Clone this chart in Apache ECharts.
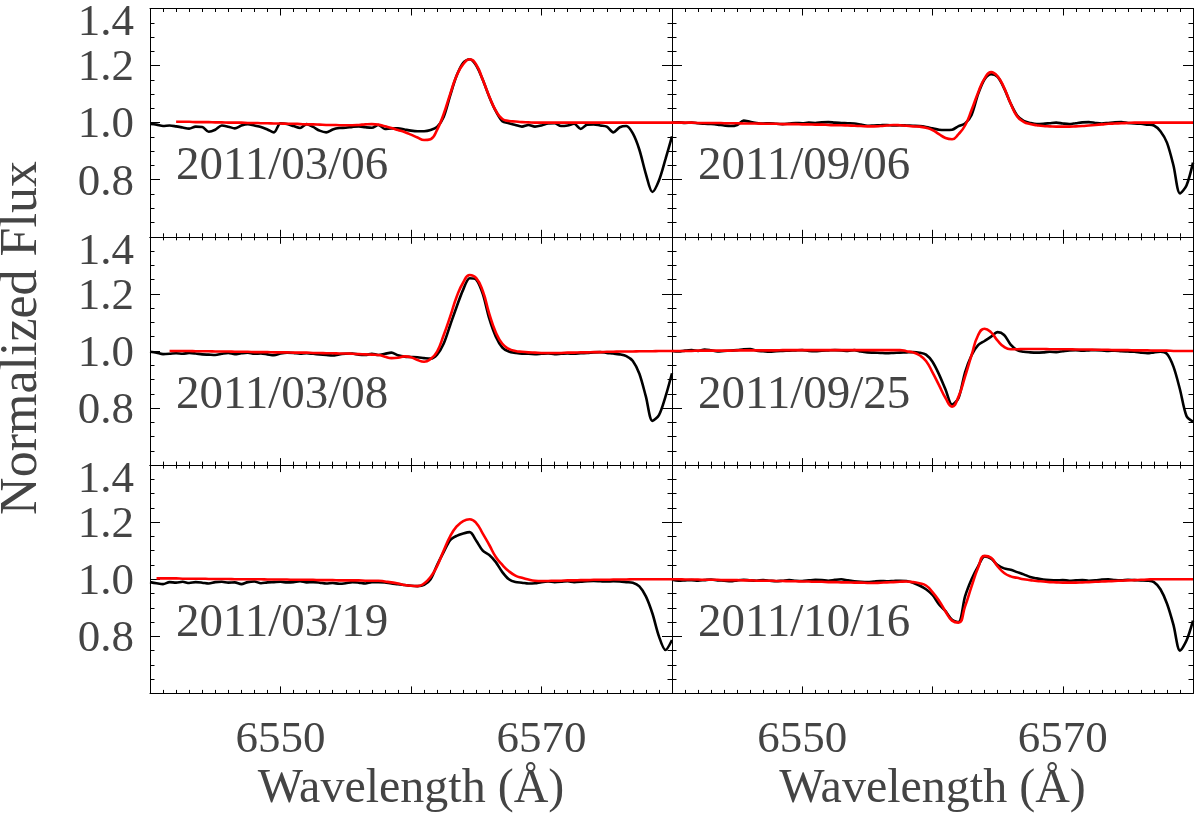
<!DOCTYPE html>
<html><head><meta charset="utf-8">
<script src="https://cdn.jsdelivr.net/npm/echarts@6/dist/echarts.min.js"></script>
<style>html,body{margin:0;padding:0;background:#fff}#c{width:1200px;height:816px}</style>
</head><body><div id="c"></div>
<script>
// ---------------- DATA ----------------
const dates = ['2011/03/06', '2011/09/06', '2011/03/08', '2011/09/25', '2011/03/19', '2011/10/16'];
const xTickLabels = ['6550', '6570'];
const yTickLabels = ['0.8', '1.0', '1.2', '1.4'];
const xTitle = 'Wavelength (Å)';
const yTitle = 'Normalized Flux';

const wave = [
 6540, 6540.5, 6541, 6541.5, 6542, 6542.5, 6543, 6543.5, 6544, 6544.5,
 6545, 6545.5, 6546, 6546.5, 6547, 6547.5, 6548, 6548.5, 6549, 6549.5,
 6550, 6550.5, 6551, 6551.5, 6552, 6552.5, 6553, 6553.5, 6554, 6554.5,
 6555, 6555.5, 6556, 6556.5, 6557, 6557.5, 6558, 6558.5, 6559, 6559.5,
 6560, 6560.5, 6561, 6561.5, 6562, 6562.5, 6563, 6563.5, 6564, 6564.5,
 6565, 6565.5, 6566, 6566.5, 6567, 6567.5, 6568, 6568.5, 6569, 6569.5,
 6570, 6570.5, 6571, 6571.5, 6572, 6572.5, 6573, 6573.5, 6574, 6574.5,
 6575, 6575.5, 6576, 6576.5, 6577, 6577.5, 6578, 6578.5, 6579, 6579.5,
 6580];

// observed (black) and model (red) normalized flux, 2011/03/06
const obs_20110306 = [
 0.995, 0.993, 0.988, 0.990, 0.987, 0.983, 0.979, 0.986, 0.985, 0.968,
 0.975, 0.990, 0.986, 0.980, 0.990, 0.995, 0.990, 0.985, 0.976, 0.966,
 0.998, 0.995, 0.988, 0.981, 0.995, 0.985, 0.972, 0.966, 0.976, 0.981,
 0.982, 0.985, 0.987, 0.984, 0.982, 0.992, 0.978, 0.980, 0.980, 0.976,
 0.972, 0.970, 0.970, 0.974, 0.985, 1.020, 1.095, 1.165, 1.210, 1.222,
 1.200, 1.150, 1.090, 1.040, 1.005, 0.998, 0.992, 0.986, 0.992, 0.986,
 0.990, 0.997, 0.998, 0.988, 0.990, 0.996, 0.978, 0.993, 0.994, 0.990,
 0.986, 0.966, 0.984, 0.988, 0.962, 0.905, 0.820, 0.757, 0.797, 0.872,
 0.952];
const fit_20110306 = [
 null, null, null, null, 1.003, 1.003, 1.003, 1.002, 1.002, 1.002,
 1.001, 1.001, 1.000, 1.000, 1.000, 0.999, 0.999, 0.998, 0.998, 0.997,
 0.997, 0.996, 0.996, 0.995, 0.994, 0.994, 0.993, 0.992, 0.992, 0.991,
 0.991, 0.991, 0.992, 0.994, 0.995, 0.993, 0.987, 0.981, 0.974, 0.967,
 0.958, 0.948, 0.939, 0.942, 0.975, 1.030, 1.100, 1.165, 1.205, 1.222,
 1.203, 1.150, 1.092, 1.042, 1.013, 1.006, 1.004, 1.002, 1.001, 1.000,
 1.000, 1.000, 1.000, 1.000, 1.000, 1.000, 1.000, 1.000, 1.000, 1.000,
 1.000, 1.000, 1.000, 1.000, 1.000, 1.000, 1.000, 1.000, 1.000, 1.000,
 1.000];

// 2011/09/06
const obs_20110906 = [
 1.000, 1.001, 0.999, 1.000, 0.998, 0.996, 0.995, 0.993, 0.990, 0.988,
 0.992, 1.007, 1.003, 0.999, 0.997, 0.998, 0.996, 0.995, 0.997, 0.999,
 0.998, 1.000, 0.999, 1.001, 1.002, 1.000, 0.999, 0.998, 0.997, 0.993,
 0.989, 0.990, 0.991, 0.992, 0.990, 0.991, 0.990, 0.989, 0.988, 0.985,
 0.980, 0.975, 0.974, 0.975, 0.988, 0.997, 1.027, 1.100, 1.152, 1.170,
 1.160, 1.120, 1.067, 1.025, 1.006, 0.999, 0.995, 0.996, 0.998, 1.000,
 0.997, 0.995, 0.998, 1.001, 1.002, 0.999, 0.997, 0.999, 1.001, 1.002,
 0.999, 0.997, 0.996, 0.993, 0.990, 0.970, 0.930, 0.850, 0.752, 0.780,
 0.860];
const fit_20110906 = [
 1.000, 1.000, 1.000, 1.000, 0.999, 0.999, 0.999, 0.999, 0.998, 0.998,
 0.998, 0.997, 0.997, 0.997, 0.996, 0.996, 0.996, 0.995, 0.995, 0.995,
 0.994, 0.994, 0.993, 0.993, 0.992, 0.991, 0.991, 0.990, 0.989, 0.988,
 0.987, 0.987, 0.988, 0.990, 0.992, 0.991, 0.989, 0.987, 0.986, 0.982,
 0.974, 0.960, 0.946, 0.942, 0.960, 0.990, 1.044, 1.105, 1.155, 1.177,
 1.162, 1.122, 1.067, 1.022, 1.003, 0.995, 0.991, 0.988, 0.987, 0.986,
 0.986, 0.986, 0.987, 0.988, 0.990, 0.992, 0.994, 0.996, 0.997, 0.998,
 0.999, 1.000, 1.000, 1.000, 1.000, 1.000, 1.000, 1.000, 1.000, 1.000,
 1.000];

// 2011/03/08
const obs_20110308 = [
 0.997, 0.994, 0.989, 0.990, 0.992, 0.990, 0.993, 0.991, 0.988, 0.987,
 0.986, 0.990, 0.993, 0.989, 0.992, 0.994, 0.990, 0.991, 0.988, 0.985,
 0.991, 0.994, 0.993, 0.990, 0.992, 0.990, 0.988, 0.986, 0.984, 0.988,
 0.990, 0.991, 0.987, 0.986, 0.990, 0.986, 0.990, 0.994, 0.985, 0.980,
 0.979, 0.978, 0.975, 0.973, 0.987, 1.025, 1.090, 1.155, 1.215, 1.255,
 1.250, 1.200, 1.113, 1.050, 1.012, 0.998, 0.993, 0.990, 0.990, 0.989,
 0.990, 0.991, 0.989, 0.990, 0.991, 0.990, 0.992, 0.993, 0.995, 0.996,
 0.993, 0.991, 0.988, 0.982, 0.965, 0.920, 0.840, 0.755, 0.775, 0.840,
 0.922];
const fit_20110308 = [
 null, null, null, 1.000, 1.000, 1.000, 1.000, 0.999, 0.999, 0.999,
 0.998, 0.998, 0.998, 0.997, 0.997, 0.997, 0.996, 0.996, 0.996, 0.995,
 0.995, 0.995, 0.994, 0.994, 0.994, 0.993, 0.993, 0.992, 0.992, 0.991,
 0.991, 0.990, 0.989, 0.988, 0.987, 0.986, 0.980, 0.975, 0.976, 0.981,
 0.978, 0.968, 0.962, 0.972, 0.998, 1.055, 1.120, 1.190, 1.240, 1.266,
 1.255, 1.210, 1.130, 1.065, 1.025, 1.007, 1.000, 0.997, 0.995, 0.994,
 0.993, 0.993, 0.993, 0.993, 0.994, 0.994, 0.995, 0.995, 0.996, 0.996,
 0.997, 0.997, 0.998, 0.998, 0.998, 0.999, 0.999, 0.999, 1.000, 1.000,
 1.000];

// 2011/09/25
const obs_20110925 = [
 1.000, 0.998, 1.001, 1.003, 1.000, 1.005, 1.002, 0.998, 1.000, 1.001,
 1.003, 1.006, 1.007, 1.001, 0.999, 0.997, 0.999, 1.000, 1.001, 1.002,
 1.003, 1.000, 0.999, 1.001, 1.002, 1.003, 1.002, 1.000, 1.003, 0.998,
 0.995, 0.994, 0.993, 0.992, 0.993, 0.994, 0.995, 0.996, 0.994, 0.987,
 0.962, 0.918, 0.865, 0.812, 0.835, 0.925, 0.985, 1.020, 1.035, 1.050,
 1.066, 1.056, 1.022, 1.003, 0.997, 0.995, 0.994, 0.995, 0.997, 0.996,
 0.999, 1.002, 1.003, 1.001, 1.002, 1.003, 1.002, 1.000, 1.001, 0.999,
 0.998, 0.997, 0.994, 0.992, 0.995, 0.997, 0.990, 0.945, 0.865, 0.772,
 0.752];
const fit_20110925 = [
 1.000, 1.000, 1.000, 1.000, 1.001, 1.001, 1.001, 1.001, 1.001, 1.001,
 1.002, 1.002, 1.002, 1.002, 1.002, 1.002, 1.002, 1.003, 1.003, 1.003,
 1.003, 1.003, 1.003, 1.003, 1.003, 1.003, 1.003, 1.003, 1.003, 1.003,
 1.003, 1.003, 1.003, 1.003, 1.003, 1.003, 0.999, 0.995, 0.985, 0.965,
 0.925, 0.880, 0.835, 0.805, 0.840, 0.910, 0.985, 1.055, 1.078, 1.065,
 1.036, 1.014, 1.006, 1.006, 1.007, 1.007, 1.007, 1.007, 1.006, 1.006,
 1.006, 1.006, 1.005, 1.005, 1.005, 1.004, 1.004, 1.004, 1.003, 1.003,
 1.003, 1.002, 1.002, 1.002, 1.001, 1.001, 1.001, 1.000, 1.000, 1.000,
 1.000];

// 2011/03/19
const obs_20110319 = [
 0.990, 0.986, 0.983, 0.990, 0.988, 0.991, 0.987, 0.990, 0.988, 0.985,
 0.990, 0.991, 0.988, 0.989, 0.983, 0.990, 0.992, 0.986, 0.989, 0.990,
 0.991, 0.989, 0.990, 0.993, 0.989, 0.990, 0.988, 0.985, 0.987, 0.984,
 0.986, 0.990, 0.988, 0.985, 0.990, 0.990, 0.989, 0.985, 0.983, 0.980,
 0.977, 0.976, 0.980, 1.000, 1.050, 1.095, 1.137, 1.152, 1.160, 1.165,
 1.135, 1.100, 1.085, 1.060, 1.025, 1.000, 0.990, 0.988, 0.985, 0.986,
 0.990, 0.992, 0.990, 0.991, 0.993, 0.990, 0.991, 0.993, 0.994, 0.993,
 0.992, 0.993, 0.992, 0.990, 0.988, 0.975, 0.940, 0.880, 0.800, 0.752,
 0.787];
const fit_20110319 = [
 null, 1.003, 1.003, 1.003, 1.003, 1.002, 1.002, 1.002, 1.002, 1.001,
 1.001, 1.001, 1.001, 1.000, 1.000, 1.000, 1.000, 1.000, 0.999, 0.999,
 0.999, 0.999, 0.998, 0.998, 0.998, 0.998, 0.997, 0.997, 0.997, 0.996,
 0.996, 0.996, 0.996, 0.995, 0.995, 0.995, 0.992, 0.989, 0.985, 0.980,
 0.977, 0.976, 0.985, 1.008, 1.046, 1.100, 1.150, 1.185, 1.204, 1.210,
 1.197, 1.160, 1.120, 1.078, 1.050, 1.028, 1.013, 1.005, 0.999, 0.995,
 0.994, 0.994, 0.995, 0.995, 0.996, 0.996, 0.997, 0.997, 0.998, 0.998,
 0.998, 0.999, 0.999, 0.999, 1.000, 1.000, 1.000, 1.000, 1.000, 1.000,
 1.000];

// 2011/10/16
const obs_20111016 = [
 0.998, 0.995, 0.996, 0.997, 0.995, 0.997, 0.999, 0.996, 0.995, 0.993,
 0.996, 0.998, 0.996, 0.995, 0.997, 0.995, 0.993, 0.995, 0.997, 0.995,
 0.994, 0.996, 0.998, 0.997, 0.995, 0.998, 1.000, 0.996, 0.993, 0.991,
 0.990, 0.992, 0.994, 0.993, 0.994, 0.995, 0.994, 0.988, 0.978, 0.965,
 0.945, 0.912, 0.888, 0.858, 0.850, 0.940, 1.000, 1.045, 1.080, 1.072,
 1.050, 1.038, 1.033, 1.025, 1.017, 1.008, 1.003, 0.999, 0.997, 0.996,
 0.997, 0.995, 0.996, 0.997, 0.995, 0.996, 0.999, 1.000, 0.997, 0.996,
 0.998, 0.997, 0.996, 0.995, 0.990, 0.965, 0.915, 0.840, 0.750, 0.785,
 0.855];
const fit_20111016 = [
 1.000, 1.000, 0.999, 0.999, 0.999, 0.998, 0.998, 0.998, 0.997, 0.997,
 0.997, 0.996, 0.996, 0.995, 0.995, 0.995, 0.994, 0.994, 0.993, 0.993,
 0.992, 0.992, 0.991, 0.991, 0.990, 0.990, 0.989, 0.989, 0.988, 0.988,
 0.987, 0.987, 0.988, 0.989, 0.990, 0.991, 0.992, 0.990, 0.986, 0.978,
 0.955, 0.925, 0.887, 0.855, 0.848, 0.905, 0.975, 1.040, 1.082, 1.075,
 1.045, 1.022, 1.010, 1.005, 1.000, 0.997, 0.994, 0.992, 0.990, 0.989,
 0.988, 0.988, 0.988, 0.989, 0.990, 0.991, 0.992, 0.993, 0.994, 0.995,
 0.996, 0.997, 0.998, 0.999, 1.000, 1.000, 1.000, 1.000, 1.000, 1.000,
 1.000];

// ---------------- LAYOUT / STYLE ----------------
const obsList = [obs_20110306, obs_20110906, obs_20110308, obs_20110925, obs_20110319, obs_20111016];
const fitList = [fit_20110306, fit_20110906, fit_20110308, fit_20110925, fit_20110319, fit_20111016];
const colLeft = [150, 672], colWidth = [522, 521];
const rowTop = [8.5, 236.8, 465.1], rowHeight = 228.3;
const FONT = '"Liberation Serif", "DejaVu Serif", serif';
const TXT = '#444';

const grids = [], xAxes = [], yAxes = [], series = [], graphics = [];
const pairs = (arr) => wave.map((w, i) => [w, arr[i]]).filter(d => d[1] !== null);

for (let p = 0; p < 6; p++) {
  const r = Math.floor(p / 2), c = p % 2;
  grids.push({ left: colLeft[c], width: colWidth[c], top: rowTop[r], height: rowHeight,
    containLabel: false, outerBoundsMode: 'none' });

  const xCommon = {
    type: 'value', gridIndex: p, min: 6540, max: 6580, interval: 10,
    splitLine: { show: false }, minorSplitLine: { show: false },
    axisLine: { onZero: false, lineStyle: { color: '#000', width: 1 } },
    axisTick: { inside: true, length: 7, lineStyle: { color: '#000', width: 1 } },
    minorTick: { show: true, splitNumber: 10, length: 3.5, lineStyle: { color: '#000', width: 1 } }
  };
  xAxes.push(Object.assign({}, xCommon, {
    position: 'bottom',
    axisLabel: { show: r === 2, margin: 24, fontFamily: FONT, fontSize: 45, color: TXT,
      showMinLabel: true, showMaxLabel: true,
      formatter: v => xTickLabels.includes(String(v)) ? String(v) : '' },
    name: r === 2 ? xTitle : '', nameLocation: 'middle', nameGap: 72,
    nameTextStyle: { fontFamily: FONT, fontSize: 48, color: TXT }
  }));
  xAxes.push(Object.assign({}, xCommon, { position: 'top', axisLabel: { show: false } }));

  const yCommon = {
    type: 'value', gridIndex: p, min: 0.6, max: 1.4, interval: 0.2,
    splitLine: { show: false }, minorSplitLine: { show: false },
    axisLine: { onZero: false, lineStyle: { color: '#000', width: 1 } },
    axisTick: { inside: true, length: 10, lineStyle: { color: '#000', width: 1 } },
    minorTick: { show: true, splitNumber: 4, length: 4.5, lineStyle: { color: '#000', width: 1 } }
  };
  yAxes.push(Object.assign({}, yCommon, {
    position: 'left',
    axisLabel: { show: c === 0, margin: 16, fontFamily: FONT, fontSize: 45, color: TXT,
      showMinLabel: true, showMaxLabel: true,
      formatter: v => {
        const s = v.toFixed(1);
        if (!yTickLabels.includes(s)) return '';
        return s === '1.4' ? '{t|' + s + '}' : '{n|' + s + '}';
      },
      rich: {
        n: { fontFamily: FONT, fontSize: 45, color: TXT, padding: [6, 0, 0, 0] },
        t: { fontFamily: FONT, fontSize: 45, color: TXT, padding: [30, 0, 0, 0] }
      } }
  }));
  yAxes.push(Object.assign({}, yCommon, { position: 'right', axisLabel: { show: false } }));

  series.push({
    type: 'line', name: dates[p] + ' observed', xAxisIndex: 2 * p, yAxisIndex: 2 * p,
    data: pairs(obsList[p]), symbol: 'none', showSymbol: false, smooth: 0.3,
    lineStyle: { color: '#000', width: 2.6 }, itemStyle: { color: '#000' }, z: 2, silent: true
  });
  series.push({
    type: 'line', name: dates[p] + ' model', xAxisIndex: 2 * p, yAxisIndex: 2 * p,
    data: pairs(fitList[p]), symbol: 'none', showSymbol: false, smooth: 0.5,
    lineStyle: { color: '#ff0000', width: 2.6 }, itemStyle: { color: '#ff0000' }, z: 3, silent: true
  });

  graphics.push({
    type: 'text', x: c === 0 ? 176 : 698, y: 167 + r * 228.3, z: 10,
    style: { text: dates[p], font: '47px ' + FONT, fill: TXT,
      align: 'left', verticalAlign: 'middle', textAlign: 'left', textVerticalAlign: 'middle' }
  });
}
graphics.push({
  type: 'text', x: 22, y: 338, rotation: Math.PI / 2, z: 10,
  style: { text: yTitle, font: '52px ' + FONT, fill: TXT,
    align: 'center', verticalAlign: 'middle', textAlign: 'center', textVerticalAlign: 'middle' }
});

const chart = echarts.init(document.getElementById('c'), null, { renderer: 'canvas' });
chart.setOption({
  animation: false,
  backgroundColor: '#fff',
  grid: grids, xAxis: xAxes, yAxis: yAxes, series: series, graphic: graphics
});
</script></body></html>
